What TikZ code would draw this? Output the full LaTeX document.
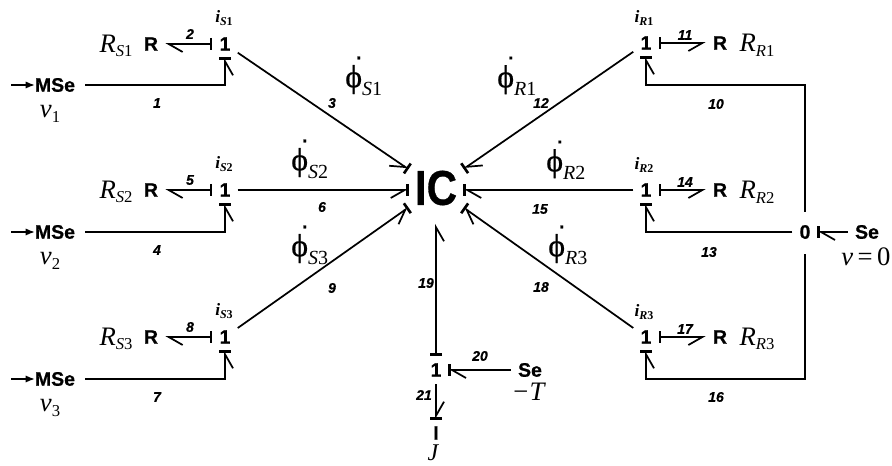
\documentclass[tikz,border=0pt]{standalone}
\usepackage{fontspec}
\setmainfont[BoldFeatures={FakeBold=0.7},BoldItalicFeatures={FakeBold=0.5}]{Liberation Sans}
\newfontfamily\rmserif{Liberation Serif}
\newfontfamily\phifont[FakeBold=0.6]{Liberation Serif}
\usetikzlibrary{arrows.meta}
\newcommand{\barbtip}[1]{Straight Barb[#1,length=10.5pt,width=12pt,line width=1.3pt]}
\newcommand{\bartip}{Bar[width=9pt,line width=2pt]}
\newcommand{\barnear}{Bar[width=9pt,line width=2pt,sep=-14pt]}
\newcommand{\symb}[2]{{\rmserif\fontsize{20}{20}\selectfont\itshape #1}{\rmserif\fontsize{12.5}{12}\selectfont\raisebox{-3.5pt}{\itshape #2}}}
\newcommand{\flowi}[1]{{\rmserif\bfseries\itshape\fontsize{13}{13}\selectfont i}{\rmserif\bfseries\fontsize{9}{9}\selectfont\raisebox{-2.5pt}{\itshape #1}}}
\newcommand{\phid}[1]{{\phifont\fontsize{24}{24}\selectfont ϕ}\llap{\raisebox{21pt}{\fontsize{14}{14}\selectfont\bfseries .\hspace{0.5pt}}}{\rmserif\fontsize{15}{15}\selectfont\raisebox{-6pt}{\itshape #1}}}
\tikzset{
  x=0.75pt,y=-0.75pt,
  elem/.style={font=\bfseries\fontsize{14.6}{15}\selectfont,inner sep=0pt,outer sep=5.5pt},
  msebox/.style={font=\bfseries\fontsize{14.6}{15}\selectfont,inner sep=0pt,outer sep=0pt},
  bond/.style={line width=1.3pt,line cap=butt,black},
  num/.style={font=\bfseries\itshape\fontsize{10.5}{11}\selectfont,inner sep=0pt},
  sym/.style={inner sep=0pt},
  hub/.style={font=\bfseries\fontsize{36.7}{37}\selectfont,inner sep=0pt,outer sep=0pt,minimum width=42pt,minimum height=30pt},
  BL/.style={bond,-{\barnear\barbtip{left}}},
  BR/.style={bond,-{\barnear\barbtip{right}}},
  SL/.style={bond,{\bartip}-{\barbtip{left}}},
  SR/.style={bond,{\bartip}-{\barbtip{right}}},
}
\begin{document}
\begin{tikzpicture}
\useasboundingbox (0,0) rectangle (892,466);
\node[hub] (ic) at (436,188) {\scalebox{0.86}[1]{IC}};
% left rows
\foreach \tag/\ya/\yb/\na/\nb/\nd/\yd/\xd in {1/44/85/1/2/3/103/332,2/190/232/4/5/6/207/322,3/337/379/7/8/9/288/332}{
  \node[elem] (sj\tag) at (225,\ya) {1};
  \node[elem] (sr\tag) at (151,\ya) {R};
  \node[msebox] (sm\tag) at (55,\yb) {MSe};
  \coordinate (si\tag) at (11,\yb);
  \coordinate (sc\tag) at (225,\yb);
  \node[sym] (srn\tag) at (116,\ya+2) {\symb{R}{S\textup{\tag}}};
  \node[sym] (sin\tag) at (224,\ya-26) {\flowi{S\textup{\tag}}};
  \node[sym] (svn\tag) at (50,\yb+29) {\symb{v}{\textup{\tag}}};
  \node[num] (sna\tag) at (157,\yb+18) {\na};
  \node[num] (snb\tag) at (190,\ya-10) {\nb};
  \node[num] (snd\tag) at (\xd,\yd) {\nd};
  \draw[bond,-{Latex[length=7pt,width=5.5pt]}] (si\tag) -- (sm\tag.west);
  \draw[BR,shorten <=7.5pt] (sm\tag.east) -- (sc\tag) -- (sj\tag);
  \draw[SL] (sj\tag) -- (sr\tag);
}
\draw[BR] (sj1) -- (ic);
\draw[BR] (sj2) -- (sj2 -| ic.west);
\draw[BR] (sj3) -- (ic);
% right rows
\foreach \tag/\ya/\nb/\nd/\yd/\xd in {1/43/11/12/103/541,2/190/14/15/209/540,3/337/17/18/287/541}{
  \node[elem] (rj\tag) at (646,\ya) {1};
  \node[elem] (rr\tag) at (720,\ya) {R};
  \node[sym] (rrn\tag) at (757,\ya+2) {\symb{R}{R\textup{\tag}}};
  \node[sym] (rin\tag) at (644,\ya-25) {\flowi{R\textup{\tag}}};
  \node[num] (rnb\tag) at (685,\ya-8) {\nb};
  \node[num] (rnd\tag) at (\xd,\yd) {\nd};
  \draw[SR] (rj\tag) -- (rr\tag);
}
\draw[BL] (rj1) -- (ic);
\draw[BL] (rj2) -- (rj2 -| ic.east);
\draw[BL] (rj3) -- (ic);
% zero junction and effort source
\node[elem] (zero) at (805,232) {0};
\node[elem] (se) at (867,232) {Se};
\node[sym] (sen) at (866,257) {\rmserif\fontsize{20}{20}\selectfont\itshape v\,\textup{=}\,\textup{0}};
\coordinate (c10) at (646,85);
\coordinate (c13) at (646,232);
\coordinate (c16) at (646,379);
\draw[BR,shorten <=4.5pt] (zero) |- (c10) -- (rj1);
\draw[BR] (zero) -- (c13) -- (rj2);
\draw[BR,shorten <=6pt] (zero) |- (c16) -- (rj3);
\draw[BL] (se) -- (zero);
\node[num] (n10) at (716,104) {10};
\node[num] (n13) at (709,252) {13};
\node[num] (n16) at (716,397) {16};
% bottom column
\node[elem] (bj) at (436,370) {1};
\node[elem] (bse) at (530,370) {Se};
\node[elem] (bi) at (436,433) {I};
\node[sym] (bt) at (528,392) {\rmserif\fontsize{20}{20}\selectfont\itshape −T};
\node[sym] (bjn) at (433,453) {\rmserif\fontsize{18}{18}\selectfont\itshape J};
\draw[SR,shorten >=12pt] (bj) -- (ic.south);
\draw[BL] (bse) -- (bj);
\draw[BL] (bj) -- (bi);
\node[num] (n19) at (426,283) {19};
\node[num] (n20) at (480,356) {20};
\node[num] (n21) at (424,395) {21};
% flow-rate labels
\node[sym,anchor=west] (fs1) at (345,76) {\phid{S\textup{1}}};
\node[sym,anchor=west] (fs2) at (291,159) {\phid{S\textup{2}}};
\node[sym,anchor=west] (fs3) at (291,245) {\phid{S\textup{3}}};
\node[sym,anchor=west] (fr1) at (497,76) {\phid{R\textup{1}}};
\node[sym,anchor=west] (fr2) at (546,160) {\phid{R\textup{2}}};
\node[sym,anchor=west] (fr3) at (548,245) {\phid{R\textup{3}}};
\end{tikzpicture}
\end{document}
